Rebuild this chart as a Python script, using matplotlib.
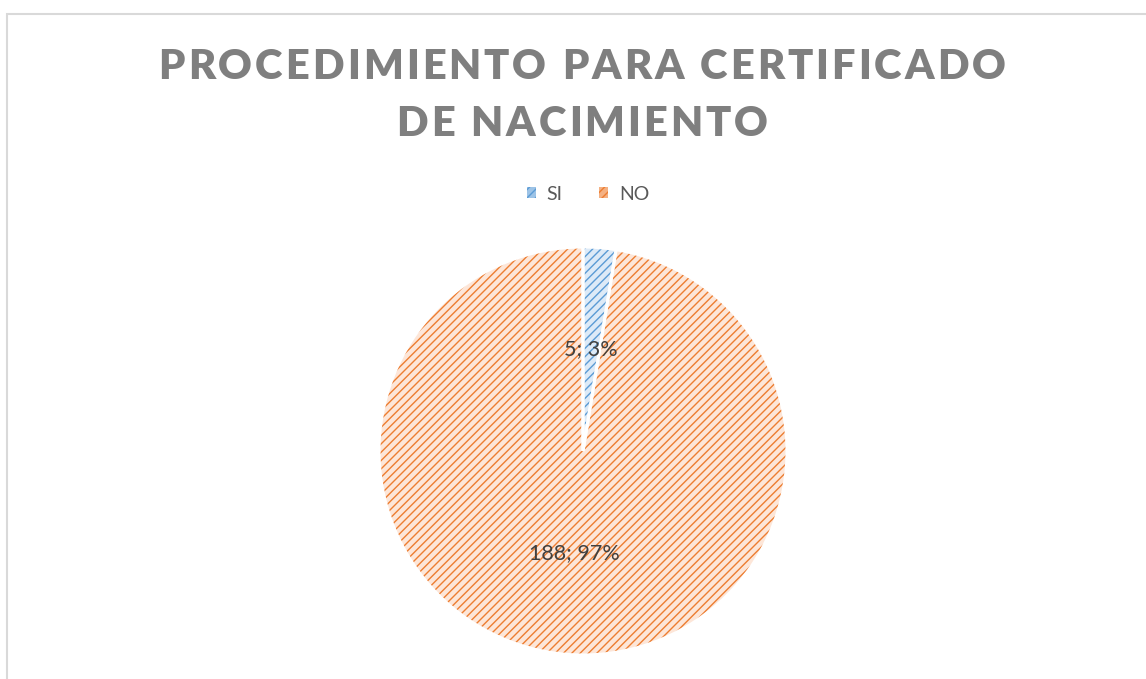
import matplotlib
matplotlib.use("Agg")
import matplotlib.pyplot as plt
from matplotlib.patches import Rectangle, Patch
from matplotlib.font_manager import FontProperties

categories = ["SI", "NO"]
values = [5, 188]
title_lines = ["PROCEDIMIENTO PARA CERTIFICADO", "DE NACIMIENTO"]

face_colors = ["#DDEAF7", "#FDE6D8"]
hatch_colors = ["#5B9BD5", "#ED7D31"]
legend_faces = ["#9DC3E6", "#F4B183"]

W, H = 1146, 679
plt.rcParams["hatch.linewidth"] = 1.0
fig = plt.figure(figsize=(W / 100, H / 100), dpi=100)
fig.patch.set_facecolor("white")

# chart border (extends beyond right/bottom edge)
fig.add_artist(Rectangle((7 / W, -0.05), 1.2, (H - 14) / H + 0.05,
                         transform=fig.transFigure, fill=False,
                         edgecolor="#D9D9D9", linewidth=1.5, clip_on=False))

# pie axes
cx, cy, r = 583, 451, 204
ax = fig.add_axes([(cx - r) / W, (H - cy - r) / H, 2 * r / W, 2 * r / H])
ax.axis("off")

total = sum(values)


def fmt(pct):
    v = int(round(pct * total / 100.0))
    return f"{v}; {pct:.0f}%"


wedges, texts, autotexts = ax.pie(values, startangle=90, counterclock=False,
                                   colors=face_colors, radius=1,
                                   autopct=fmt, pctdistance=0.5,
                                   wedgeprops=dict(linewidth=0),
                                   textprops=dict(family="Lato", fontsize=15.5,
                                                  color="#404040"))
for w, hc in zip(wedges, hatch_colors):
    w.set_hatch("////")
    w.set_edgecolor(hc)
    w.set_linewidth(0)

# white separators
w2, _ = ax.pie(values, startangle=90, counterclock=False, radius=1,
               wedgeprops=dict(fill=False, edgecolor="white", linewidth=2.2))
for t in autotexts:
    t.set_zorder(10)
ax.set_xlim(-1, 1)
ax.set_ylim(-1, 1)
ax.set_aspect("equal")

# legend
handles = [Patch(facecolor=fc, edgecolor=hc, hatch="////", linewidth=0)
           for fc, hc in zip(legend_faces, hatch_colors)]
leg = fig.legend(handles, categories, loc="center", bbox_to_anchor=(588 / W, 1 - 194 / H),
                 ncol=2, frameon=False, handlelength=0.45, handleheight=0.45,
                 handletextpad=0.55, columnspacing=1.9,
                 prop=FontProperties(family="Lato", size=14))
for t in leg.get_texts():
    t.set_color("#595959")

# title with letter spacing
renderer = fig.canvas.get_renderer()
tprop = FontProperties(family="Lato", weight="heavy", size=30)


def char_widths(s):
    out = []
    for ch in s:
        if ch == " ":
            w, _, _ = renderer.get_text_width_height_descent("a a", tprop, ismath=False)
            w2_, _, _ = renderer.get_text_width_height_descent("aa", tprop, ismath=False)
            out.append(w - w2_)
        else:
            w, _, _ = renderer.get_text_width_height_descent(ch, tprop, ismath=False)
            out.append(w)
    return out


target_w = 847
ws0 = char_widths(title_lines[0])
spacing = (target_w - sum(ws0)) / (len(title_lines[0]) - 1)
baselines = [79, 136]
for line, base in zip(title_lines, baselines):
    ws = char_widths(line)
    tw = sum(ws) + spacing * (len(line) - 1)
    x = 582 - tw / 2
    for ch, w in zip(line, ws):
        fig.text(x / W, 1 - base / H, ch, fontproperties=tprop, color="#7F7F7F",
                 ha="left", va="baseline")
        x += w + spacing

fig.savefig("out.png", dpi=100, facecolor="white")
